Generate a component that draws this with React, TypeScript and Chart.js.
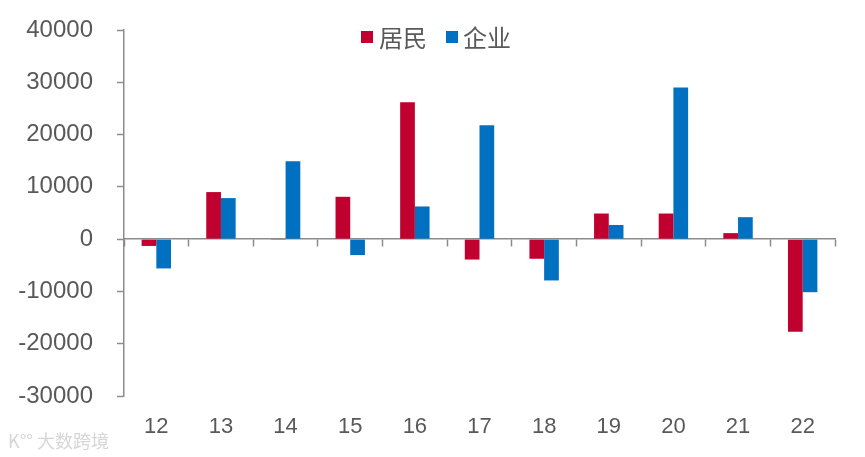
import Chart from 'chart.js/auto';
import { useEffect, useRef } from 'react';

const categories = ['12', '13', '14', '15', '16', '17', '18', '19', '20', '21', '22'];
const residents = [-1300, 9000, -150, 8100, 26200, -3900, -3750, 4900, 4900, 1150, -17700];
const enterprises = [-5600, 7850, 14900, -3050, 6250, 21800, -7900, 2700, 29000, 4200, -10150];
const yTicks = [-30000, -20000, -10000, 0, 10000, 20000, 30000, 40000];

const RED = '#C0002F';
const BLUE = '#0070C0';
const AXIS = '#8c8c8c';
const TEXT = '#595959';

const App: React.FC = () => {
  const chartRef = useRef<HTMLCanvasElement>(null);
  const chartInstanceRef = useRef<Chart | null>(null);

  useEffect(() => {
    const canvas = chartRef.current;
    if (!canvas) return;
    const ctx = canvas.getContext('2d');
    if (!ctx) return;

    if (chartInstanceRef.current) {
      chartInstanceRef.current.destroy();
    }

    chartInstanceRef.current = new Chart(ctx, {
      type: 'bar',
      data: {
        labels: categories,
        datasets: [
          {
            label: '居民',
            data: residents,
            backgroundColor: RED,
            xAxisID: 'x',
            yAxisID: 'y'
          },
          {
            label: '企业',
            data: enterprises,
            backgroundColor: BLUE,
            xAxisID: 'x',
            yAxisID: 'y'
          }
        ]
      },
      options: {
        animation: false,
        responsive: true,
        maintainAspectRatio: false,
        categoryPercentage: 0.455,
        barPercentage: 1,
        layout: {
          padding: { left: 18, right: 30, top: 30, bottom: 17 }
        },
        plugins: {
          legend: { display: false },
          tooltip: { enabled: false }
        },
        scales: {
          x: {
            type: 'category',
            position: 'bottom',
            grid: { display: false, drawTicks: false },
            border: { display: false },
            ticks: {
              color: TEXT,
              padding: 18,
              font: { family: '"Liberation Sans", Arial, sans-serif', size: 22 }
            },
            afterFit: (scale) => {
              scale.height = 44;
            }
          },
          x2: {
            type: 'category',
            axis: 'x',
            labels: categories,
            position: { y: 0 },
            offset: true,
            grid: {
              offset: true,
              drawOnChartArea: false,
              drawTicks: true,
              tickLength: 7,
              tickColor: AXIS,
              tickWidth: 1.5,
              color: AXIS
            },
            border: { display: true, color: AXIS, width: 1.5 },
            ticks: { display: false }
          },
          y: {
            min: -30000,
            max: 40000,
            afterBuildTicks: (axis) => {
              axis.ticks = yTicks.map((v) => ({ value: v }));
            },
            grid: {
              drawOnChartArea: false,
              drawTicks: true,
              tickLength: 7,
              tickColor: AXIS,
              tickWidth: 1.5,
              color: AXIS
            },
            border: { display: true, color: AXIS, width: 1.5 },
            ticks: {
              color: TEXT,
              padding: 24,
              font: { family: '"Liberation Sans", Arial, sans-serif', size: 24 },
              callback: (v) => String(v)
            },
            afterFit: (scale) => {
              scale.width = 106;
              scale.paddingTop = 0;
              scale.paddingBottom = 0;
            }
          }
        }
      }
    });

    return () => {
      if (chartInstanceRef.current) {
        chartInstanceRef.current.destroy();
        chartInstanceRef.current = null;
      }
    };
  }, []);

  const cjk = '"Noto Sans CJK SC", "Liberation Sans", sans-serif';

  return (
    <div style={{ position: 'absolute', left: 0, top: 0, width: 865, height: 457, background: '#fff' }}>
      <canvas ref={chartRef}></canvas>
      <div
        style={{
          position: 'absolute',
          left: 361,
          top: 22,
          display: 'flex',
          alignItems: 'center',
          fontFamily: cjk,
          fontSize: 24,
          lineHeight: '30px',
          color: TEXT
        }}
      >
        <span style={{ width: 12, height: 12, background: RED, marginRight: 6 }}></span>
        <span>居民</span>
        <span style={{ width: 12, height: 12, background: BLUE, marginLeft: 19, marginRight: 5 }}></span>
        <span>企业</span>
      </div>
      <div
        style={{
          position: 'absolute',
          left: 8,
          top: 427,
          fontFamily: cjk,
          fontSize: 18,
          color: '#d6d6d6',
          whiteSpace: 'nowrap'
        }}
      >
        K°° 大数跨境
      </div>
    </div>
  );
};

export default App;
